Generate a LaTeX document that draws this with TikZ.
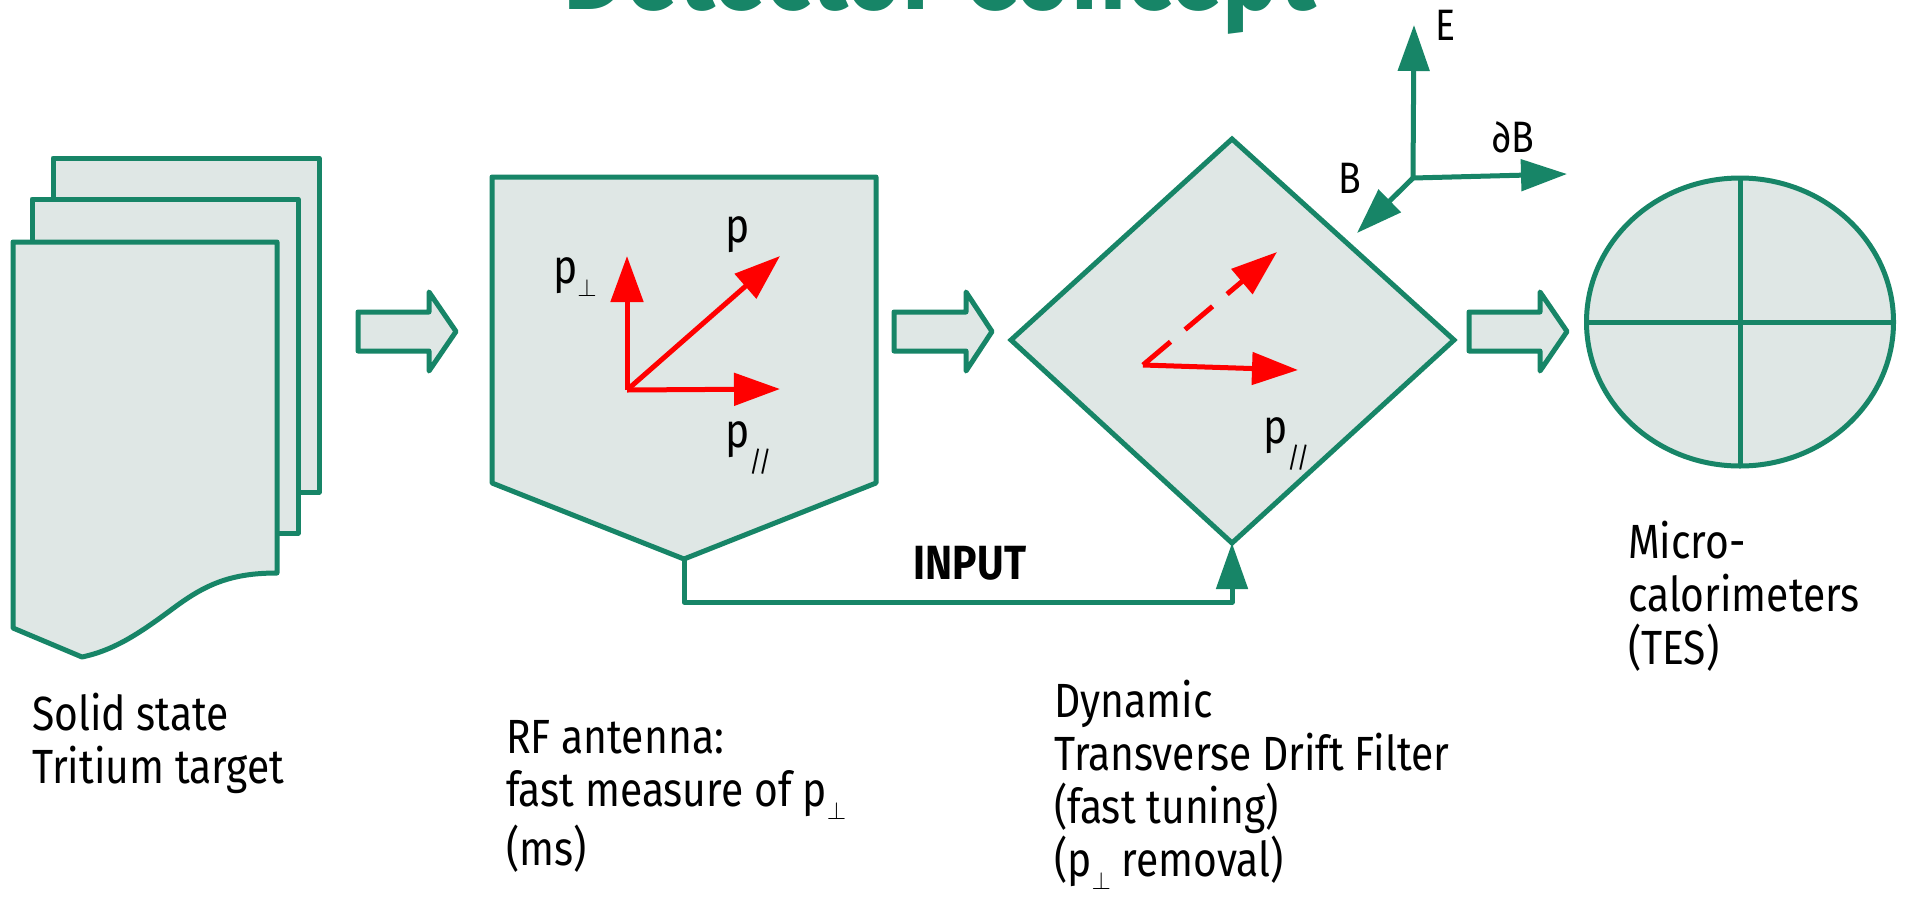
\documentclass[tikz,border=0pt]{standalone}
\usepackage{fontspec}
\setmainfont{Fira Sans}[FakeStretch=0.85]
\usetikzlibrary{arrows.meta,shapes.geometric}
\definecolor{tgreen}{HTML}{178567}
\definecolor{tfill}{HTML}{DFE7E5}
\definecolor{tred}{HTML}{FF0000}
\newcommand\subperp{\raisebox{-13pt}{$\scriptscriptstyle\perp$}}
\newcommand\subpar{\raisebox{-24pt}{\fontsize{28}{28}\selectfont //}}
\begin{document}
\begin{tikzpicture}[x=1pt,y=-1pt,
  boxshape/.style={draw=tgreen, fill=tfill, line width=5pt, line join=round},
  redvec/.style={draw=tred, line width=5pt, -{Triangle[length=46pt,width=32pt]}},
  greenvec/.style={draw=tgreen, line width=5pt, -{Triangle[length=46pt,width=31pt]}},
  lbl/.style={font=\fontsize{48}{53}\selectfont, inner sep=0pt, anchor=base west, align=left},
  axlbl/.style={font=\fontsize{44}{48}\selectfont, inner sep=0pt, anchor=base west}]
\useasboundingbox (0,0) rectangle (1908,903);
\fill[white] (0,0) rectangle (1908,903);

% title (cut off at the top)
\node[font=\fontsize{112}{112}\selectfont\bfseries, text=tgreen, inner sep=0pt, anchor=base] (title) at (940,9) {Detector Concept};

% stack of target sheets
\draw[boxshape] (53,158) rectangle (319,492);
\draw[boxshape] (32,199) rectangle (298,533);
\draw[boxshape] (13,242) -- (277,242) -- (277,573)
  .. controls (230,573) and (205,585) .. (175,607)
  .. controls (140,633) and (115,650) .. (82,657) -- (13,628) -- cycle;

% block arrows
\draw[boxshape] (358,312) -- (429,312) -- (429,292) -- (456,331.5) -- (429,371) -- (429,351) -- (358,351) -- cycle;
\draw[boxshape] (894,312) -- (966,312) -- (966,292) -- (992,331.5) -- (966,371) -- (966,351) -- (894,351) -- cycle;
\draw[boxshape] (1469,312) -- (1540,312) -- (1540,292) -- (1567,331.5) -- (1540,371) -- (1540,351) -- (1469,351) -- cycle;

% RF antenna pentagon
\coordinate (pentbot) at (684,559);
\draw[boxshape] (492,177) -- (876,177) -- (876,483) -- (pentbot) -- (492,483) -- cycle;
\coordinate (po) at (627,390);
\coordinate (pperptip) at (627,256);
\coordinate (ptip) at (780,256);
\coordinate (ppartip) at (780,389);
\draw[redvec] (po) -- (pperptip);
\draw[redvec] (po) -- (ptip);
\draw[redvec] (po) -- (ppartip);
\node[lbl] (lpperp) at (553,283) {p\subperp};
\node[lbl] (lp) at (725,242) {p};
\node[lbl] (lppar) at (725,447) {p\subpar};

% drift filter diamond
\coordinate (dialeft) at (1011,340);
\coordinate (diatop) at (1232,139);
\coordinate (diaright) at (1454,340);
\coordinate (diabot) at (1232,543);
\draw[boxshape, line join=miter] (dialeft) -- (diatop) -- (diaright) -- (diabot) -- cycle;
\coordinate (do) at (1143,365);
\coordinate (dashtip) at (1277,252);
\coordinate (soltip) at (1298,370);
\draw[redvec, dash pattern=on 36pt off 19pt] (do) -- (dashtip);
\draw[redvec] (do) -- (soltip);
\node[lbl] (dppar) at (1263,443) {p\subpar};

% field axes
\coordinate (ax) at (1413,178);
\coordinate (etip) at (1414,25);
\coordinate (dbtip) at (1567,174);
\coordinate (btip) at (1357,233);
\draw[greenvec] (ax) -- (etip);
\draw[greenvec] (ax) -- (dbtip);
\draw[greenvec] (ax) -- (btip);
\node[axlbl] (le) at (1435,40) {E};
\node[axlbl] (ldb) at (1492,152) {∂B};
\node[axlbl] (lb) at (1338,193) {B};

% INPUT connector
\coordinate (bendy) at (0,602);
\draw[greenvec, line join=round] (pentbot) -- (pentbot |- bendy) -- (diabot |- bendy) -- (diabot);
\node[font=\fontsize{48}{53}\selectfont\bfseries, inner sep=0pt, anchor=base] (input) at (970,579) {INPUT};

% micro-calorimeters
\node[draw=tgreen, fill=tfill, line width=5pt, ellipse, minimum width=307pt, minimum height=288pt, inner sep=0pt, outer sep=0pt] (tes) at (1740,322) {};
\draw[tgreen, line width=5pt] (tes.north) -- (tes.south);
\draw[tgreen, line width=5pt] (tes.west) -- (tes.east);

% captions (anchor = baseline of the last line)
\node[lbl] (capsolid) at (32,783) {Solid state\\Tritium target};
\node[lbl] (caprf) at (506,865) {RF antenna:\\fast measure of p\subperp\\[4pt](ms)};
\node[lbl] (capdyn) at (1054,876) {Dynamic\\Transverse Drift Filter\\(fast tuning)\\(p\subperp{} removal)};
\node[lbl] (captes) at (1628,664) {Micro-\\calorimeters\\(TES)};
\end{tikzpicture}
\end{document}
